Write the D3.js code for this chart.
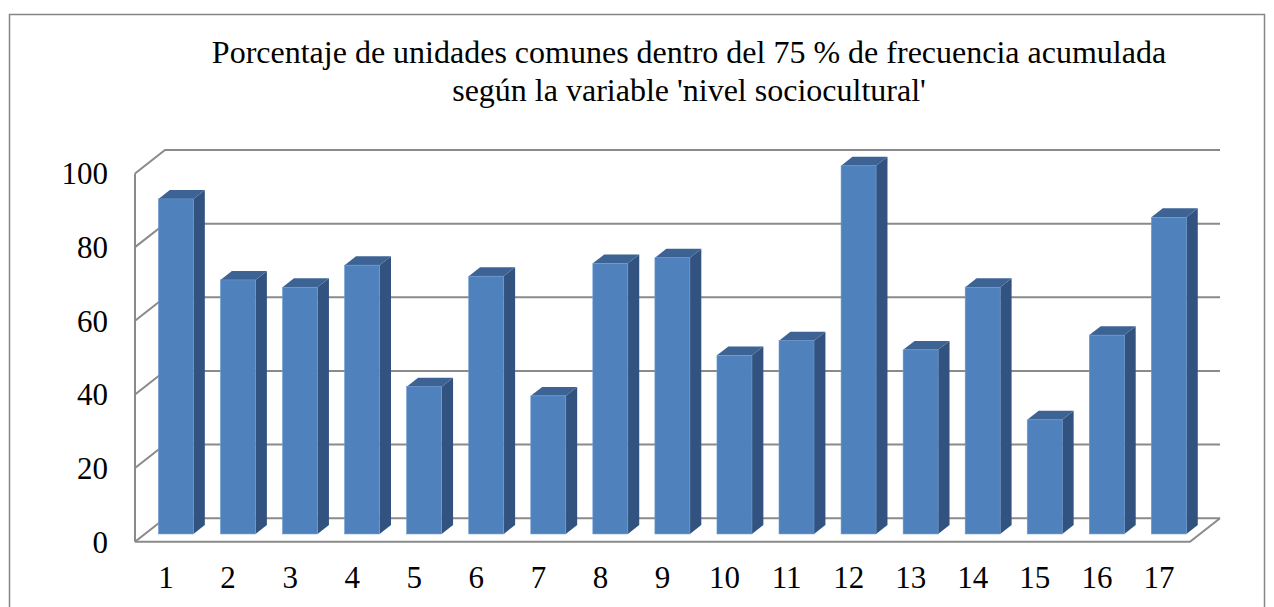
<!DOCTYPE html>
<html>
<head>
<meta charset="utf-8">
<script src="https://cdn.jsdelivr.net/npm/d3@7"></script>
<style>
  html, body { margin: 0; padding: 0; background: #fff; }
  svg { display: block; }
  text { font-family: "Liberation Serif", "Times New Roman", serif; fill: #000; }
</style>
</head>
<body>
<svg id="chart" width="1274" height="607"></svg>
<script>
const titleLines = ["Porcentaje de unidades comunes dentro del 75 % de frecuencia acumulada",
                    "según la variable 'nivel sociocultural'"];
const categories = ["1","2","3","4","5","6","7","8","9","10","11","12","13","14","15","16","17"];
const values = [91, 69, 67, 73, 40, 70, 37.5, 73.5, 75, 48.5, 52.5, 100, 50, 67, 31, 54, 86];
const yTicks = [0, 20, 40, 60, 80, 100];

const svg = d3.select("#chart");

// outer border
svg.append("rect").attr("x", 9.5).attr("y", 14.5).attr("width", 1255).attr("height", 620)
  .attr("fill", "#fff").attr("stroke", "#868686").attr("stroke-width", 1.5);

// title
svg.append("g").selectAll("text").data(titleLines).join("text")
  .attr("x", 689).attr("y", (d, i) => 63 + i * 38)
  .attr("text-anchor", "middle").attr("font-size", 32).text(d => d);

// 3D geometry
const DX = 30, DY = 23.5;            // depth offset of the walls
const x = d3.scaleBand().domain(categories).range([135, 1190]).paddingInner(0).paddingOuter(0);
const y = d3.scaleLinear().domain([0, 100]).range([541.7, 173.5]);  // front plane
const P = (xf, v, z) => [xf + z * DX, y(v) - z * DY];

const grid = svg.append("g").attr("stroke", "#8a8a8a").attr("stroke-width", 2).attr("fill", "none");
const xL = x.range()[0], xR = x.range()[1];
// back wall gridlines + left wall diagonals
yTicks.forEach(t => {
  const a = P(xL, t, 0), b = P(xL, t, 1), c = P(xR, t, 1);
  grid.append("path").attr("d", d3.line()([a, b, c]));
});
// left wall front edge
grid.append("path").attr("d", d3.line()([P(xL, 0, 0), P(xL, 100, 0)]));
// floor front edge and right edge
grid.append("path").attr("d", d3.line()([P(xL, 0, 0), P(xR, 0, 0), P(xR, 0, 1)]));

// bars
const z0 = 0.33, z1 = 0.71, bw = 35;
const barsG = svg.append("g");
categories.forEach((c, i) => {
  const v = values[i];
  const xf = x(c) + (x.bandwidth() - bw) / 2;
  const fl = P(xf, 0, z0), fr = P(xf + bw, 0, z0);
  const tl = P(xf, v, z0), tr = P(xf + bw, v, z0);
  const btl = P(xf, v, z1), btr = P(xf + bw, v, z1);
  const bbr = P(xf + bw, 0, z1);
  const g = barsG.append("g");
  g.append("path").attr("d", d3.line()([fr, tr, btr, bbr]) + "Z").attr("fill", "#325380");
  g.append("path").attr("d", d3.line()([tl, tr, btr, btl]) + "Z").attr("fill", "#3c6394");
  g.append("rect").attr("x", tl[0]).attr("y", tl[1]).attr("width", bw).attr("height", fl[1] - tl[1])
    .attr("fill", "#4f81bd").attr("stroke", "#6d99cf").attr("stroke-width", 0.6);
});

// y axis labels
svg.append("g").selectAll("text").data(yTicks).join("text")
  .attr("x", 108).attr("y", d => y(d)).attr("dy", "0.35em")
  .attr("text-anchor", "end").attr("font-size", 31).text(d => d);

// x axis labels
svg.append("g").selectAll("text").data(categories).join("text")
  .attr("x", d => x(d) + x.bandwidth() / 2).attr("y", 588)
  .attr("text-anchor", "middle").attr("font-size", 31).text(d => d);
</script>
</body>
</html>
